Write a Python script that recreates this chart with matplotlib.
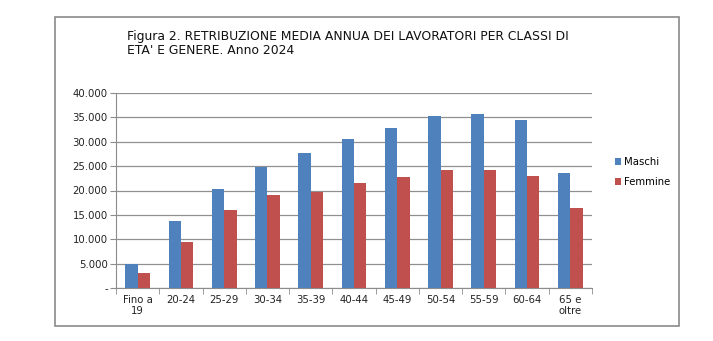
import matplotlib
matplotlib.use("Agg")
import matplotlib.pyplot as plt
from matplotlib.patches import Rectangle
from matplotlib.ticker import FuncFormatter
import numpy as np

categories = ["Fino a\n19", "20-24", "25-29", "30-34", "35-39", "40-44",
              "45-49", "50-54", "55-59", "60-64", "65 e\noltre"]
maschi = [5000, 13700, 20300, 24800, 27700, 30500, 32700, 35300, 35700, 34400, 23600]
femmine = [3100, 9400, 16100, 19000, 19700, 21500, 22800, 24100, 24200, 22900, 16450]
series_names = ["Maschi", "Femmine"]
title = "Figura 2. RETRIBUZIONE MEDIA ANNUA DEI LAVORATORI PER CLASSI DI\nETA' E GENERE. Anno 2024"

W, H = 713, 341
fig = plt.figure(figsize=(W / 100, H / 100), dpi=100)
plt.rcParams['font.family'] = ['DejaVu Sans']

# outer frame
fig.patches.append(Rectangle((55 / W, 1 - 326 / H), (679 - 55) / W, (326 - 17) / H,
                             transform=fig.transFigure, fill=False,
                             edgecolor="#8a8a8a", lw=1.2))

ax = fig.add_axes([116 / W, 1 - 288.3 / H, (592 - 116) / W, (288.3 - 92.7) / H])
x = np.arange(len(categories))
bw = 1 / 3.5
b1 = ax.bar(x - bw / 2, maschi, bw, color="#4F81BD", label=series_names[0], zorder=3)
b2 = ax.bar(x + bw / 2, femmine, bw, color="#C0504D", label=series_names[1], zorder=3)

ax.set_xlim(-0.5, len(categories) - 0.5)
ax.set_ylim(0, 40000)
ax.set_yticks(np.arange(0, 40001, 5000))
ax.yaxis.set_major_formatter(FuncFormatter(
    lambda v, p: "-" if v == 0 else f"{int(v):,}".replace(",", ".")))
ax.grid(axis="y", color="#909090", lw=0.9, zorder=0)
ax.set_axisbelow(True)
for s in ["top", "right"]:
    ax.spines[s].set_visible(False)
for s in ["left", "bottom"]:
    ax.spines[s].set_color("#8c8c8c")
ax.set_xticks(x)
ax.set_xticklabels(categories, fontsize=7.3, color="#222222", linespacing=1.1)
ax.set_xticks(np.arange(-0.5, len(categories), 1), minor=True)
ax.tick_params(axis="x", which="major", length=0, pad=5)
ax.tick_params(axis="x", which="minor", length=4, color="#8c8c8c")
ax.tick_params(axis="y", length=4, color="#8c8c8c", labelsize=7.3, labelcolor="#222222", pad=2)

fig.text(127 / W, 1 - 30 / H, title, fontsize=8.9, va="top", ha="left",
         color="#111111", linespacing=1.15)

leg = fig.legend(handles=[b1, b2], loc="upper left",
                 bbox_to_anchor=(610 / W, 1 - 152 / H), frameon=False,
                 fontsize=7.3, handlelength=0.6, handleheight=0.6,
                 handletextpad=0.3, labelspacing=1.0, borderpad=0)

fig.savefig("out.png", dpi=100)
